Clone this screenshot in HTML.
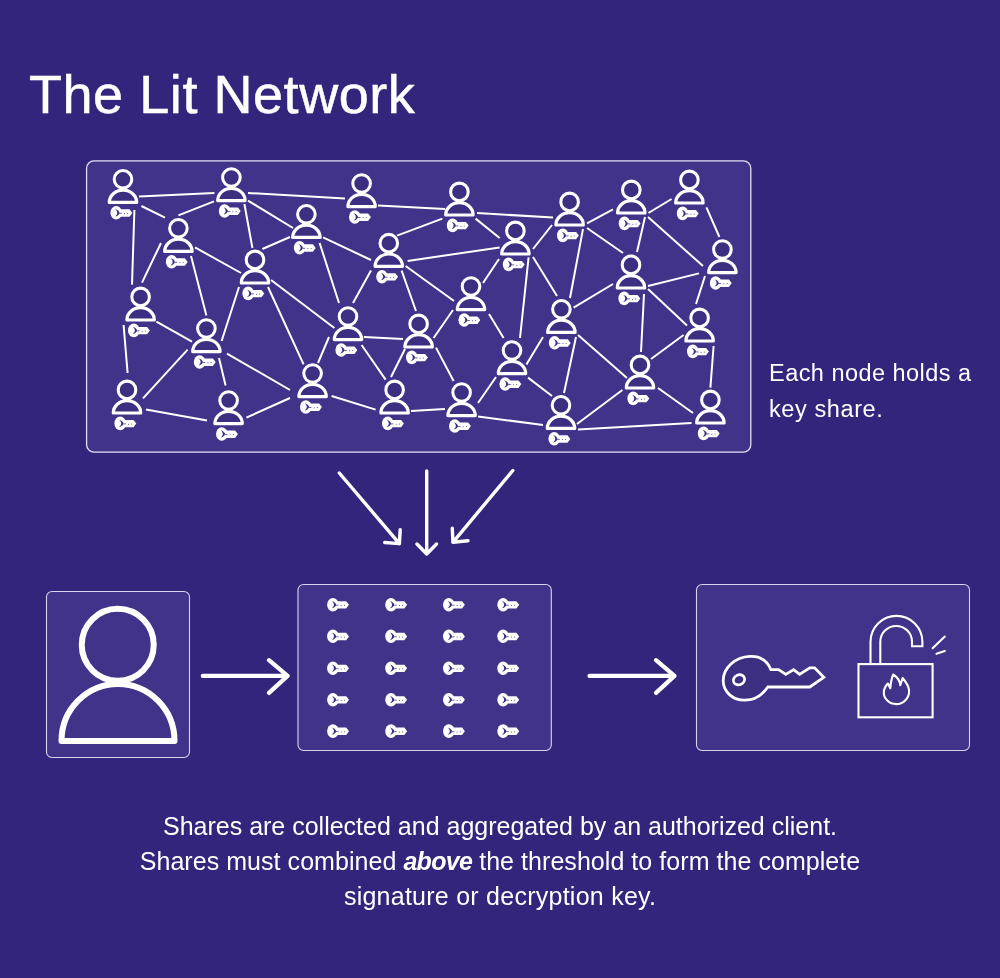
<!DOCTYPE html>
<html><head><meta charset="utf-8">
<style>
html,body{margin:0;padding:0;}
body{width:1000px;height:978px;background:#33247c;overflow:hidden;position:relative;font-family:"Liberation Sans",sans-serif;color:#fff;}
svg{position:absolute;left:0;top:0;}
.t{position:absolute;white-space:nowrap;will-change:transform;}
.c{position:absolute;left:0;width:1000px;text-align:center;white-space:nowrap;font-size:25px;line-height:35px;will-change:transform;}
</style></head><body>
<svg width="1000" height="978" viewBox="0 0 1000 978">
<defs>
<g id="sk">
<ellipse cx="-5.1" cy="0" rx="5.8" ry="6.8" fill="#ffffff"/>
<path d="M-2 -3.5H8.2L11 0.1L8.2 3.9H-2Z" fill="#ffffff"/>
<path d="M-6.2 -3.7C-3.4 -3 -1.9 -1.2 -1.9 0.1C-1.9 1.4 -3.4 3.1 -6.2 3.6C-4.6 2.4 -4.1 1.2 -4.1 0.1C-4.1 -1.2 -4.6 -2.4 -6.2 -3.7Z" fill="#3c2e80"/>
<path d="M-2.2 0.5H0.6" stroke="#3c2e80" stroke-width="0.7"/>
<circle cx="3.2" cy="0.8" r="0.5" fill="#3c2e80"/><circle cx="6.4" cy="0.6" r="0.5" fill="#3c2e80"/>
</g>
<g id="nd">
<path d="M-13.7 0A13.7 12.3 0 0 1 13.7 0Z" fill="#3c2e80" stroke="#ffffff" stroke-width="3.2" stroke-linejoin="round"/>
<circle cx="0" cy="-23.1" r="8.8" fill="#3c2e80" stroke="#ffffff" stroke-width="3.05"/>
<use href="#sk" x="-1.7" y="10.4"/>
</g>
</defs>
<rect x="86.6" y="160.8" width="664.2" height="291.4" rx="7.5" fill="#413389" stroke="#e4dff2" stroke-width="1.3"/>
<path d="M139 196.4L214.4 193 M141.4 206L165 217.6 M178.4 215.4L214 201.4 M134.4 210L132 284.6 M161 243L142 282.6 M195 247.4L241 273 M191 256L206.4 315.6 M248 193L345 198.6 M248 200.6L293 228 M244.4 204L252.4 248 M262.4 249L290 237 M239 287L221.6 341 M268 287L303.6 364.4 M271 280L334.4 328 M378 205.6L445 209 M323 237.4L371 260 M319.6 243L339 303 M397 235.6L442.4 218.6 M407.6 261L499.6 247.4 M371 270.6L353 303 M401.6 270.6L416 311 M405.6 266L454 301 M477 213L553 217.6 M475.6 218.6L499.6 238 M533 249L552 225 M499 259L483 283 M528.6 257.4L520 338 M533 257L557 296 M587 223.4L613 209.4 M587 228L623 253 M583 229L570 298 M648.4 213L671.6 199 M706.4 207.4L719.4 237 M648 217L703 266 M645 217L637 252 M648 286L699 273.4 M705 276L696 304 M613 284L573.6 307.6 M644 294L641 352 M648 289L687 325.6 M156.4 321.6L192 341.6 M123.6 325L127.6 373 M187.6 349.6L143 398.4 M146 409.6L207 420.6 M219 358L225.6 385.6 M227 353.6L290 390 M246.4 417.6L290 398 M329 337L318 363 M364 337L403 339 M361.6 345L385.6 379.6 M405 349L391 377 M433.6 338L453 310 M436 347.6L453.6 381 M331.6 396L375.6 409.6 M411 411L445 409 M489 314L503.6 338 M526.4 364.4L543 337 M496 377L478 403 M528 377.6L552 396 M576 337L564 393 M578 335L627 378 M577 424L622.4 390 M478 416.4L543 425 M578 429.6L691.6 423 M651 359L683.6 335 M713.6 346L710.4 387.6 M658 388L693 413" stroke="#ffffff" stroke-width="2" fill="none"/>
<use href="#nd" x="123" y="202.4"/>
<use href="#nd" x="231.4" y="200.6"/>
<use href="#nd" x="178.4" y="251.4"/>
<use href="#nd" x="255" y="283"/>
<use href="#nd" x="140.6" y="320"/>
<use href="#nd" x="306.4" y="237.4"/>
<use href="#nd" x="361.6" y="206.6"/>
<use href="#nd" x="388.8" y="266.3"/>
<use href="#nd" x="459.4" y="215"/>
<use href="#nd" x="569.6" y="225"/>
<use href="#nd" x="515.4" y="254"/>
<use href="#nd" x="631.3" y="213"/>
<use href="#nd" x="631" y="288"/>
<use href="#nd" x="471" y="309.6"/>
<use href="#nd" x="561.4" y="332.4"/>
<use href="#nd" x="689.4" y="203"/>
<use href="#nd" x="722.4" y="272.6"/>
<use href="#nd" x="206.4" y="351.6"/>
<use href="#nd" x="127" y="413"/>
<use href="#nd" x="228.6" y="423.6"/>
<use href="#nd" x="348" y="339.6"/>
<use href="#nd" x="418.6" y="347"/>
<use href="#nd" x="312.6" y="396.6"/>
<use href="#nd" x="394.6" y="413"/>
<use href="#nd" x="461.6" y="415.6"/>
<use href="#nd" x="512" y="373.6"/>
<use href="#nd" x="561" y="428.4"/>
<use href="#nd" x="640" y="388"/>
<use href="#nd" x="699.6" y="341"/>
<use href="#nd" x="710.4" y="423"/>
<g stroke="#ffffff" stroke-width="3.4" stroke-linecap="round" stroke-linejoin="round" fill="none">
<path d="M339.3 473L399.4 543.6M384.7 542.5L399.4 543.6L400.2 529.7"/>
<path d="M426.7 471L426.7 554M417 544L426.7 554L436.5 544"/>
<path d="M512.8 470.5L452.9 542.3M452.3 528.2L452.9 542.3L468 540.8"/>
</g>
<rect x="46.5" y="591.5" width="143" height="166" rx="5.5" fill="#413389" stroke="#d9d3ec" stroke-width="1.1"/>
<rect x="298" y="584.5" width="253.3" height="166" rx="5.5" fill="#413389" stroke="#d9d3ec" stroke-width="1.1"/>
<rect x="696.5" y="584.5" width="273" height="166" rx="5.5" fill="#413389" stroke="#d9d3ec" stroke-width="1.1"/>
<circle cx="117.75" cy="644.8" r="36" fill="none" stroke="#ffffff" stroke-width="6"/>
<path d="M61.5 741A56.5 57 0 0 1 174.5 741Z" fill="none" stroke="#ffffff" stroke-width="6" stroke-linejoin="round"/>
<g stroke="#ffffff" stroke-width="4.2" stroke-linecap="round" stroke-linejoin="round" fill="none">
<path d="M202.8 675.9H287.6M269 660.2L287.6 675.9L269 692.9"/>
<path d="M589.5 675.9H674.5M656 660.2L674.5 675.9L656 692.9"/>
</g>
<use href="#sk" x="338" y="604.7"/>
<use href="#sk" x="338" y="636.3"/>
<use href="#sk" x="338" y="668.2"/>
<use href="#sk" x="338" y="699.7"/>
<use href="#sk" x="338" y="731.1"/>
<use href="#sk" x="396.1" y="604.7"/>
<use href="#sk" x="396.1" y="636.3"/>
<use href="#sk" x="396.1" y="668.2"/>
<use href="#sk" x="396.1" y="699.7"/>
<use href="#sk" x="396.1" y="731.1"/>
<use href="#sk" x="453.9" y="604.7"/>
<use href="#sk" x="453.9" y="636.3"/>
<use href="#sk" x="453.9" y="668.2"/>
<use href="#sk" x="453.9" y="699.7"/>
<use href="#sk" x="453.9" y="731.1"/>
<use href="#sk" x="508.2" y="604.7"/>
<use href="#sk" x="508.2" y="636.3"/>
<use href="#sk" x="508.2" y="668.2"/>
<use href="#sk" x="508.2" y="699.7"/>
<use href="#sk" x="508.2" y="731.1"/>
<path d="M770.8 669.6C767 660 760 656 750 656.4C735 657 723 668 723.2 681C723.5 692 733 700.5 745 700.2C755 700 763 694 767.8 687L809.8 687L823.8 677.4L814.6 667.8L809.8 667.8L799.6 674.4L793.6 669.6L785.8 674.4L778.6 669.6Z" fill="#3c2e80" stroke="#ffffff" stroke-width="2.8" stroke-linejoin="miter"/>
<ellipse cx="739" cy="679.8" rx="5.8" ry="4.9" transform="rotate(-25 739 679.8)" fill="none" stroke="#ffffff" stroke-width="2.7"/>
<g fill="none" stroke="#ffffff" stroke-width="2.1">
<rect x="858.5" y="664.1" width="74.1" height="53.2"/>
<path d="M870.5 664.1V641.8A25.95 25.95 0 0 1 922.4 641.8V646.2H912V641.8A15.85 15.85 0 0 0 880.3 641.8V664.1"/>
<path d="M887.9 683.5L890.3 688.2C891 681 892 677 893.2 674.5C897 677 900 681 900.3 685.3L902.6 678C906 682 909.1 686 909.1 691.2C909.1 698.5 903 704.1 896.2 704.1C889 704.1 883.8 698.5 883.8 692.4C883.8 689 885.5 686 887.9 683.5Z" stroke-linejoin="round"/>
<path d="M932.6 648.2L944.8 636.5M936.5 653.8L944.8 650.9" stroke-linecap="round"/>
</g>
</svg>
<div class="t" style="left:28.5px;top:66.5px;font-size:54px;line-height:54px;letter-spacing:0.55px;-webkit-text-stroke:0.5px #fff;">The Lit Network</div>
<div class="t" style="left:768.8px;top:356.4px;font-size:23.5px;line-height:35px;letter-spacing:0.46px;">Each node holds a</div>
<div class="t" style="left:768.8px;top:391.6px;font-size:23.5px;line-height:35px;letter-spacing:0.6px;">key share.</div>
<div class="c" style="top:808.5px;letter-spacing:0.0px;">Shares are collected and aggregated by an authorized client.</div>
<div class="c" style="top:843.8px;letter-spacing:0.05px;">Shares must combined <b style="font-style:italic;letter-spacing:-0.7px">above</b> the threshold to form the complete</div>
<div class="c" style="top:879.3px;letter-spacing:0.25px;">signature or decryption key.</div>
</body></html>
